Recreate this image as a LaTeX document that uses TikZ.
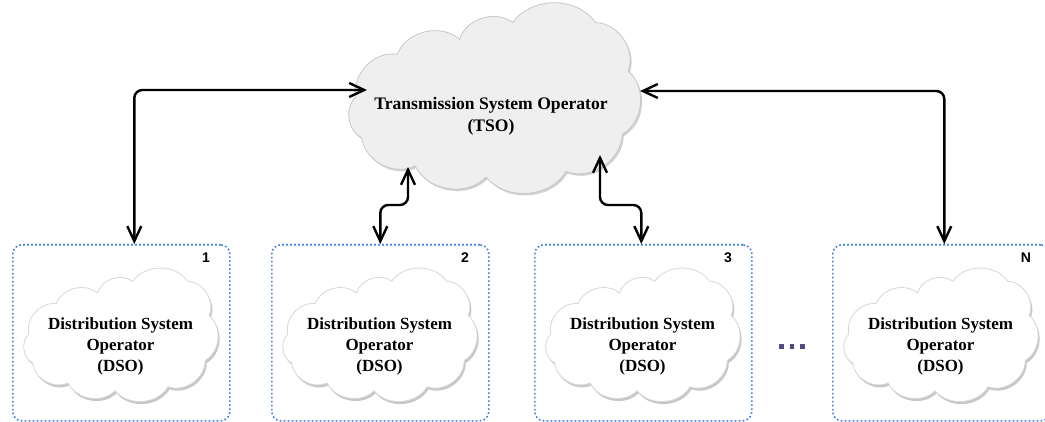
\documentclass[tikz,border=0pt]{standalone}
\usepackage{fontspec}
\setmainfont{Liberation Serif}
\newfontfamily\labelsans{Liberation Sans}
\usetikzlibrary{arrows.meta,calc,shadows}

\definecolor{boxblue}{RGB}{60,125,230}
\definecolor{tsofill}{RGB}{239,239,239}
\definecolor{tsoline}{RGB}{200,200,200}
\definecolor{dsoline}{RGB}{215,215,215}
\definecolor{dotpurple}{RGB}{88,70,130}

% cloud outline in a box of width #4 and height #5 at top-left corner (#2,#3)
\newcommand\puffcloud[5][]{%
  \path[#1]
    ({#2+0.03*#4},{#3+0.50*#5})
    to[bend left=55] ({#2+0.17*#4},{#3+0.27*#5})
    to[bend left=55] ({#2+0.38*#4},{#3+0.19*#5})
    to[bend left=55] ({#2+0.56*#4},{#3+0.10*#5})
    to[bend left=55] ({#2+0.84*#4},{#3+0.10*#5})
    to[bend left=55] ({#2+0.95*#4},{#3+0.36*#5})
    to[bend left=55] ({#2+0.93*#4},{#3+0.70*#5})
    to[bend left=55] ({#2+0.74*#4},{#3+0.90*#5})
    to[bend left=55] ({#2+0.47*#4},{#3+0.93*#5})
    to[bend left=55] ({#2+0.23*#4},{#3+0.87*#5})
    to[bend left=55] ({#2+0.05*#4},{#3+0.72*#5})
    to[bend left=55] cycle;}

\tikzset{
  conn/.style={line width=2.4pt, rounded corners=8pt,
    {Straight Barb[length=15pt,width=14pt]}-{Straight Barb[length=15pt,width=14pt]}},
  dsobox/.style={draw=boxblue, line width=1.6pt, dash pattern=on 1.6pt off 2.4pt,
    rounded corners=9pt, minimum width=217pt, minimum height=176pt,
    inner sep=0pt, fill=white, anchor=north west},
  tsocloud/.style={fill=tsofill, draw=tsoline, line width=0.8pt,
    drop shadow={shadow xshift=1.5pt, shadow yshift=-2pt, opacity=0.18, fill=black}},
  dsocloud/.style={fill=white, draw=dsoline, line width=0.8pt,
    drop shadow={shadow xshift=1.5pt, shadow yshift=-2.5pt, opacity=0.22, fill=black}},
  cloudtext/.style={font=\bfseries\fontsize{17}{21}\selectfont, align=center, inner sep=0pt},
  tsotext/.style={font=\bfseries\fontsize{17.6}{22}\selectfont, align=center, inner sep=0pt},
  boxnum/.style={font=\labelsans\bfseries\fontsize{14}{14}\selectfont, inner sep=0pt},
}

\begin{document}
\begin{tikzpicture}[x=1pt,y=-1pt]
\useasboundingbox (0,0) rectangle (1045,422);
\clip (0,0) rectangle (1045,422);

% transmission operator cloud
\puffcloud[tsocloud]{347}{4}{296}{186}
\node[tsotext] (tso) at (491,116) {Transmission System Operator\\(TSO)};

% distribution operator boxes
\foreach \name/\lft/\num in {d1/12/1, d2/271/2, d3/534/3, dN/832/N}{
  \node[dsobox] (\name) at (\lft,244) {};
  \puffcloud[dsocloud]{\lft+11}{268}{196}{132}
  \node[cloudtext] (\name text) at (\lft+108.5,346) {Distribution System\\Operator\\(DSO)};
  \node[boxnum] (\name num) at (\lft+194,258) {\num};
}

% ellipsis between box 3 and box N
\foreach \k in {0,1,2}
  \fill[dotpurple] (779+\k*10.5,344) rectangle ++(4.5,4.5);

% attachment points on the TSO cloud outline
\coordinate (tsoW)  at (367,90);
\coordinate (tsoE)  at (640,91);
\coordinate (tsoS2) at (408,167);
\coordinate (tsoS3) at (600,155);

% links between operators
\draw[conn] ($(d1.north)+(13,0)$) |- (tsoW);
\draw[conn] (tsoE) -| ($(dN.north)+(3,0)$);
\draw[conn] (tsoS2) -- (408,205) -| (d2.north);
\draw[conn] (tsoS3) -- (600,205) -| ($(d3.north)+(-2,0)$);
\end{tikzpicture}
\end{document}
